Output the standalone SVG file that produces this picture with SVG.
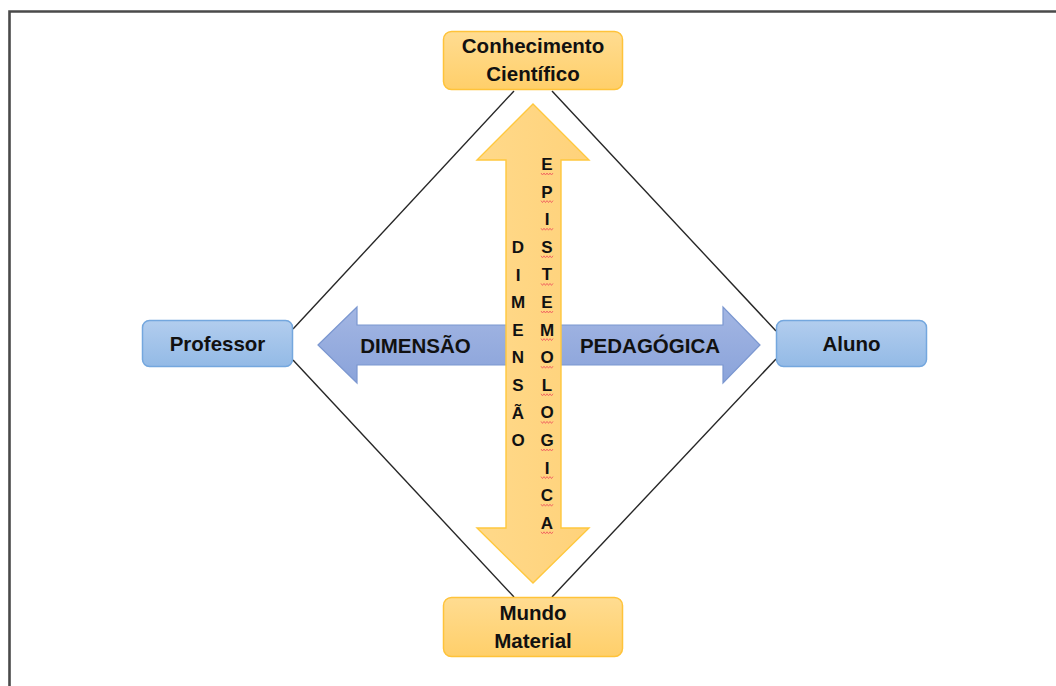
<svg xmlns="http://www.w3.org/2000/svg" width="1056" height="686" viewBox="0 0 1056 686">
<defs>
<linearGradient id="gy" x1="0" y1="0" x2="0" y2="1"><stop offset="0" stop-color="#ffdc91"/><stop offset="1" stop-color="#ffcf6a"/></linearGradient>
<linearGradient id="gb" x1="0" y1="0" x2="0" y2="1"><stop offset="0" stop-color="#b2cdee"/><stop offset="1" stop-color="#93bae6"/></linearGradient>
<linearGradient id="gba" x1="0" y1="0" x2="0" y2="1"><stop offset="0" stop-color="#a3b6e3"/><stop offset="1" stop-color="#8aa3da"/></linearGradient>
<linearGradient id="gya" x1="0" y1="0" x2="1" y2="0"><stop offset="0" stop-color="#ffd98a"/><stop offset="1" stop-color="#ffd27a"/></linearGradient>
<path id="sq" d="M-6,0 l1.5,2 l1.5,-2 l1.5,2 l1.5,-2 l1.5,2 l1.5,-2 l1.5,2 l1.5,-2" fill="none" stroke="#f06060" stroke-width="0.9"/>
</defs>
<style>
.ybox{fill:url(#gy);stroke:#ffc33a;stroke-width:1.5}
.bbox{fill:url(#gb);stroke:#74a7de;stroke-width:1.5}
.t{font-family:"Liberation Sans",Arial,sans-serif;font-weight:bold;font-size:20.5px;fill:#111;text-anchor:middle}
.a{font-family:"Liberation Sans",Arial,sans-serif;font-weight:bold;font-size:20.5px;fill:#111;text-anchor:middle}
.v{font-family:"Liberation Sans",Arial,sans-serif;font-weight:bold;font-size:17px;fill:#111;text-anchor:middle}
.c{stroke:#262626;stroke-width:1.4;fill:none}
</style>
<rect width="1056" height="686" fill="#ffffff"/>
<path d="M9.5,686 V11.5 H1056" fill="none" stroke="#4a4a4a" stroke-width="2.6"/>
<g id="connectors">
<line class="c" x1="514" y1="91" x2="293" y2="329"/>
<line class="c" x1="293" y1="360" x2="514" y2="597"/>
<line class="c" x1="552" y1="91" x2="776" y2="331"/>
<line class="c" x1="776" y1="359" x2="552" y2="597"/>
</g>
<g id="arrow-pedagogica">
<path d="M318,345 L357,307 L357,325 L723,325 L723,307 L760,345 L723,383 L723,365 L357,365 L357,383 Z" fill="url(#gba)" stroke="#7b97d0" stroke-width="1.2"/>
<text class="a" x="415.5" y="353">DIMENSÃO</text>
<text class="a" x="650" y="353">PEDAGÓGICA</text>
</g>
<g id="arrow-epistemologica">
<path d="M533,104 L589,160 L561,160 L561,528 L589,528 L533,583 L477,528 L506,528 L506,160 L477,160 Z" fill="url(#gya)" stroke="#ffc83e" stroke-width="1.4"/>
<g class="v">
<text x="518" y="253">D</text>
<text x="518" y="280.6">I</text>
<text x="518" y="308.2">M</text>
<text x="518" y="335.8">E</text>
<text x="518" y="363.4">N</text>
<text x="518" y="391">S</text>
<text x="518" y="418.6">Ã</text>
<text x="518" y="446.2">O</text>
<text x="547" y="170">E</text>
<text x="547" y="197.6">P</text>
<text x="547" y="225.2">I</text>
<text x="547" y="252.8">S</text>
<text x="547" y="280.4">T</text>
<text x="547" y="308">E</text>
<text x="547" y="335.6">M</text>
<text x="547" y="363.2">O</text>
<text x="547" y="390.8">L</text>
<text x="547" y="418.4">O</text>
<text x="547" y="446">G</text>
<text x="547" y="473.6">I</text>
<text x="547" y="501.2">C</text>
<text x="547" y="528.8">A</text>
</g>
<g id="squiggles">
<use href="#sq" x="547" y="173"/>
<use href="#sq" x="547" y="200.6"/>
<use href="#sq" x="547" y="228.2"/>
<use href="#sq" x="547" y="255.8"/>
<use href="#sq" x="547" y="283.4"/>
<use href="#sq" x="547" y="311"/>
<use href="#sq" x="547" y="338.6"/>
<use href="#sq" x="547" y="366.2"/>
<use href="#sq" x="547" y="393.8"/>
<use href="#sq" x="547" y="421.4"/>
<use href="#sq" x="547" y="449"/>
<use href="#sq" x="547" y="476.6"/>
<use href="#sq" x="547" y="504.2"/>
<use href="#sq" x="547" y="531.8"/>
</g>
</g>
<g id="node-conhecimento">
<rect class="ybox" x="443.5" y="31.5" width="179" height="58" rx="8"/>
<text class="t" x="533" y="53">Conhecimento</text>
<text class="t" x="533" y="81">Científico</text>
</g>
<g id="node-mundo">
<rect class="ybox" x="443.5" y="597.5" width="179" height="59" rx="8"/>
<text class="t" x="533" y="620">Mundo</text>
<text class="t" x="533" y="648">Material</text>
</g>
<g id="node-professor">
<rect class="bbox" x="142.5" y="320.5" width="150" height="46" rx="7"/>
<text class="t" x="217.5" y="351">Professor</text>
</g>
<g id="node-aluno">
<rect class="bbox" x="776.5" y="320.5" width="150" height="46" rx="7"/>
<text class="t" x="851.5" y="351">Aluno</text>
</g>
</svg>
